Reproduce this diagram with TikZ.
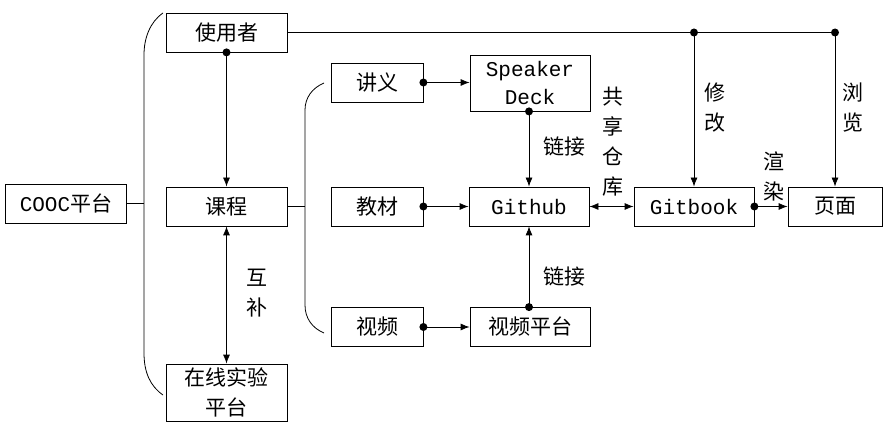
\documentclass[tikz,border=0pt]{standalone}
\usepackage{fontspec}
\setmainfont{Noto Sans CJK SC}
\newfontfamily\lat{Liberation Mono}
\usetikzlibrary{arrows.meta}

\begin{document}
\begin{tikzpicture}[x=1pt,y=-1pt,line width=0.8pt,
	font=\fontsize{21}{30}\selectfont,
	box/.style={draw,inner sep=0,minimum width=121pt,minimum height=39pt,align=center},
	sbox/.style={box,minimum width=92pt},
	dot/.style={circle,fill,inner sep=0,minimum size=8pt},
	arr/.style={-{Latex[length=9pt,width=7pt]}},
	darr/.style={{Latex[length=9pt,width=7pt]}-{Latex[length=9pt,width=7pt]}},
	lab/.style={align=center,inner sep=0}]

\useasboundingbox (0,0) rectangle (891,427);

%左边一列
\node[box] (cooc) at (66,203.5) {{\lat COOC}平台};
\node[box] (user) at (226.5,32.5) {使用者};
\node[box] (kc) at (226.5,206.5) {课程};
\node[box,minimum height=57pt] (syan) at (226.5,392.5) {在线实验\\平台};

%大括号
\draw (163,13) .. controls (150,22) and (144,38) .. (144,55) -- (144,353)
	.. controls (144,372) and (150,386) .. (163,395);
\coordinate (b1) at (144,203.5);
\draw (cooc.east) -- (b1);

\draw (305,110) .. controls (305,98) and (312,88) .. (324,83);
\draw (305,110) -- (305,305) .. controls (305,318) and (312,328) .. (324,333);
\coordinate (b2) at (305,206.5);
\draw (kc.east) -- (b2);

%中间
\node[sbox] (jy) at (377,82.5) {讲义};
\node[sbox] (jc) at (377,206.5) {教材};
\node[sbox] (sp) at (377,327) {视频};

\node[box,minimum width=120pt,minimum height=56pt,font=\fontsize{21}{28}\selectfont\lat] (sd) at (530,83) {Speaker\\Deck};
\node[box,minimum width=120pt,font=\fontsize{21}{30}\selectfont\lat] (gh) at (529,206.5) {Github};
\node[box,minimum width=120pt] (sppt) at (530,327) {视频平台};

%右边
\node[box,minimum width=120pt,font=\fontsize{21}{30}\selectfont\lat] (gb) at (694,206.5) {Gitbook};
\node[box,minimum width=94pt] (ym) at (835,206.5) {页面};

%连线
\draw[arr] (user.south) node[dot]{} -- (kc.north);
\draw[darr] (kc.south) -- (syan.north);

\draw[arr] (jy.east) node[dot]{} -- (sd.west |- jy.east);
\draw[arr] (jc.east) node[dot]{} -- (gh.west);
\draw[arr] (sp.east) node[dot]{} -- (sppt.west);

\draw[arr] (sd.south -| gh.north) node[dot]{} -- (gh.north);
\draw[arr] (sppt.north -| gh.south) node[dot]{} -- (gh.south);

\draw[darr] (gh.east) -- (gb.west);
\draw[arr] (gb.east) node[dot]{} -- (ym.west);

\draw (user.east) -- (ym.north |- user.east) node[dot,name=t2]{};
\node[dot] (t1) at (gb.north |- user.east) {};
\draw[arr] (t1.center) -- (gb.north);
\draw[arr] (t2.center) -- (ym.north);

%文字
\node[lab] at (257,293.5) {互\\补};
\node[lab] at (564,147) {链接};
\node[lab] at (564,277) {链接};
\node[lab] at (613,142) {共\\享\\仓\\库};
\node[lab] at (715,108) {修\\改};
\node[lab] at (853,108) {浏\\览};
\node[lab] at (774,176.5) {渲\\染};

\end{tikzpicture}
\end{document}
